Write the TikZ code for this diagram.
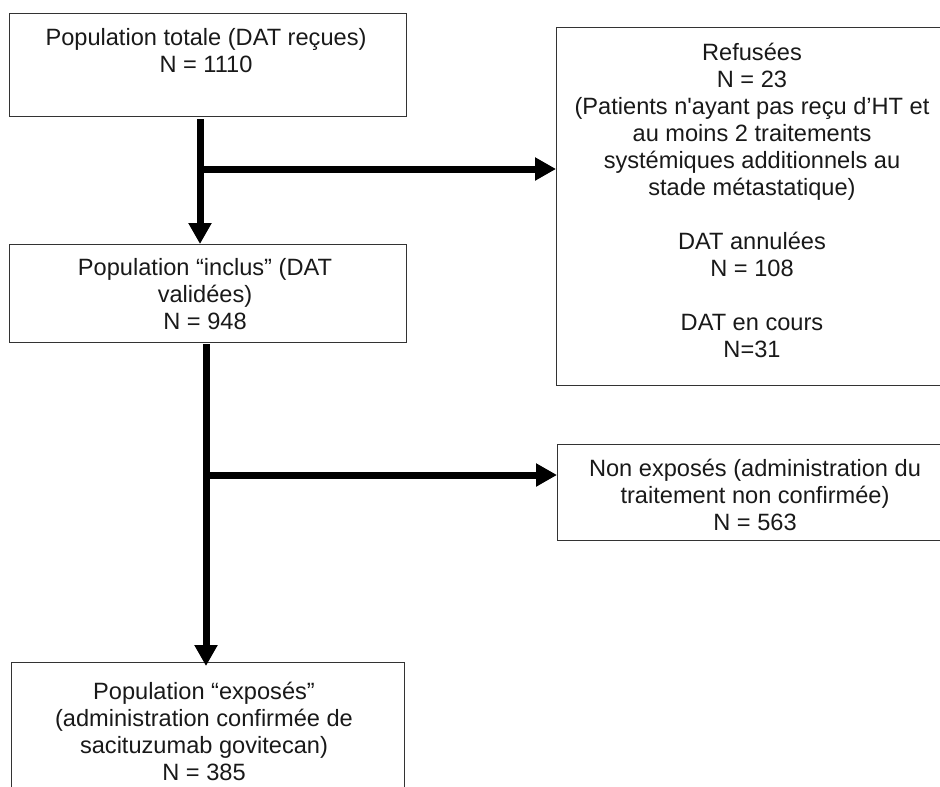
\documentclass[tikz,border=0pt]{standalone}
\usepackage{fontspec}
\setmainfont{Liberation Sans}
\usetikzlibrary{arrows.meta}
\begin{document}
\begin{tikzpicture}[x=1pt,y=-1pt,
  boxframe/.style={draw=black!80, line width=1.4pt, inner sep=0pt, anchor=north west},
  boxtext/.style={inner sep=0pt, anchor=north, align=center, text=black!90,
    font=\fontsize{23.6pt}{27pt}\selectfont},
  flow/.style={line width=7pt, black, -{Triangle[width=22pt,length=21pt]}},
  flowline/.style={line width=7pt, black}]
\useasboundingbox (0,0) rectangle (940,787);
% boxes
\node[boxframe, minimum width=397pt, minimum height=103pt] (b1) at (9,13) {};
\node[boxframe, minimum width=392pt, minimum height=358pt] (b2) at (556,27) {};
\node[boxframe, minimum width=397pt, minimum height=98pt] (b3) at (9,244) {};
\node[boxframe, minimum width=396pt, minimum height=96pt] (b4) at (557,444) {};
\node[boxframe, minimum width=393pt, minimum height=140pt] (b5) at (11,662) {};
% texts
\node[boxtext] (t1) at (206,27.7) {Population totale (DAT reçues)\\N = 1110};
\node[boxtext] (t2) at (752,42.7) {Refusées\\N = 23\\(Patients n\textquotesingle ayant pas reçu d’HT et\\au moins 2 traitements\\systémiques additionnels au\\stade métastatique)\\[27pt]DAT annulées\\N = 108\\[27pt]DAT en cours\\N=31};
\node[boxtext] (t3) at (205,257.7) {Population “inclus” (DAT\\validées)\\N = 948};
\node[boxtext] (t4) at (755,458.7) {Non exposés (administration du\\traitement non confirmée)\\N = 563};
\node[boxtext] (t5) at (204,681.7) {Population “exposés”\\(administration confirmée de\\sacituzumab govitecan)\\N = 385};
% junctions
\coordinate (s1) at (200,119);
\coordinate (j1) at (200,169);
\coordinate (s2) at (206,344);
\coordinate (j2) at (206,475);
% connectors
\draw[flow] (s1) -- (s1 |- b3.north);
\draw[flow] (j1) -- (j1 -| b2.west);
\draw[flow] (s2) -- ([yshift=-4pt]s2 |- b5.north);
\draw[flow] (j2) -- (j2 -| b4.west);
\end{tikzpicture}
\end{document}
